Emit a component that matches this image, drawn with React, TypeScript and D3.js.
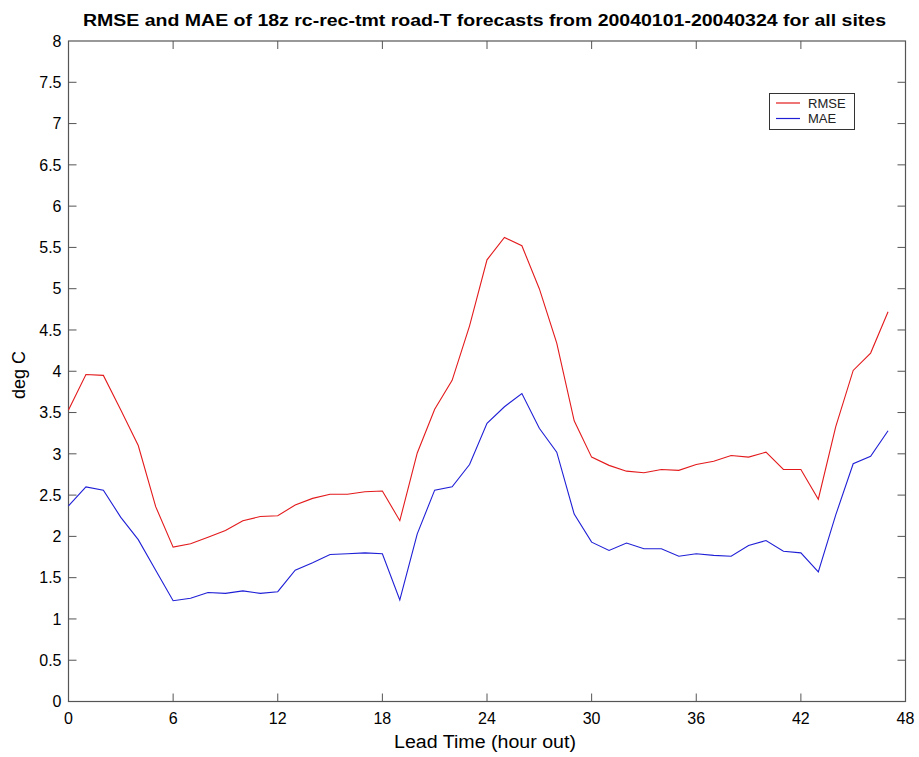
import React, { useEffect, useRef } from "react";
import * as d3 from "d3";

// lead time hours 0..47
const leadHours = d3.range(0, 48);

const rmseValues = [
  3.53, 3.96, 3.95, 3.53, 3.1, 2.36, 1.87, 1.91, 1.99, 2.07, 2.19, 2.24,
  2.25, 2.38, 2.46, 2.51, 2.51, 2.54, 2.55, 2.19, 3.01, 3.54, 3.89, 4.55,
  5.35, 5.62, 5.52, 5.0, 4.34, 3.4, 2.96, 2.86, 2.79, 2.77, 2.81, 2.8,
  2.87, 2.91, 2.98, 2.96, 3.02, 2.81, 2.81, 2.45, 3.33, 4.01, 4.22, 4.72,
];

const maeValues = [
  2.37, 2.6, 2.56, 2.23, 1.96, 1.59, 1.22, 1.25, 1.32, 1.31, 1.34, 1.31,
  1.33, 1.59, 1.68, 1.78, 1.79, 1.8, 1.79, 1.23, 2.03, 2.56, 2.6, 2.87,
  3.37, 3.57, 3.73, 3.31, 3.02, 2.27, 1.93, 1.83, 1.92, 1.85, 1.85, 1.76,
  1.79, 1.77, 1.76, 1.89, 1.95, 1.82, 1.8, 1.57, 2.26, 2.88, 2.97, 3.28,
];

const xTicks = [0, 6, 12, 18, 24, 30, 36, 42, 48];
const yTicks = d3.range(0, 8.01, 0.5);

const seriesNames = ["RMSE", "MAE"];
const seriesColors = ["#e31a1c", "#1f1fd6"];

const App = () => {
  const svgRef = useRef<SVGSVGElement>(null);

  useEffect(() => {
    const svg = d3.select(svgRef.current);
    svg.selectAll("*").remove();

    const left = 68.5;
    const right = 905.5;
    const top = 41;
    const bottom = 701.5;
    const font = "Arial, 'Liberation Sans', Helvetica, sans-serif";
    const axisColor = "#555";
    const tickLen = 8;

    const x = d3.scaleLinear().domain([0, 48]).range([left, right]);
    const y = d3.scaleLinear().domain([0, 8]).range([bottom, top]);

    svg.append("rect").attr("width", 919).attr("height", 757).attr("fill", "#fff");

    // Titulo
    svg
      .append("text")
      .attr("x", 83)
      .attr("y", 26)
      .attr("textLength", 803)
      .attr("lengthAdjust", "spacingAndGlyphs")
      .attr("font-family", font)
      .attr("font-weight", "bold")
      .attr("font-size", 16)
      .attr("fill", "#000")
      .text("RMSE and MAE of 18z rc-rec-tmt road-T forecasts from 20040101-20040324 for all sites");

    // Caja de ejes
    svg
      .append("rect")
      .attr("x", left)
      .attr("y", top)
      .attr("width", right - left)
      .attr("height", bottom - top)
      .attr("fill", "none")
      .attr("stroke", axisColor)
      .attr("stroke-width", 1.2);

    const ticks = svg.append("g").attr("stroke", axisColor).attr("stroke-width", 1);

    xTicks.slice(1, -1).forEach((t) => {
      ticks.append("line").attr("x1", x(t)).attr("x2", x(t)).attr("y1", bottom).attr("y2", bottom - tickLen);
      ticks.append("line").attr("x1", x(t)).attr("x2", x(t)).attr("y1", top).attr("y2", top + tickLen);
    });
    yTicks.slice(1, -1).forEach((t) => {
      ticks.append("line").attr("x1", left).attr("x2", left + tickLen).attr("y1", y(t)).attr("y2", y(t));
      ticks.append("line").attr("x1", right).attr("x2", right - tickLen).attr("y1", y(t)).attr("y2", y(t));
    });

    // Etiquetas eje X
    svg
      .append("g")
      .selectAll("text")
      .data(xTicks)
      .enter()
      .append("text")
      .attr("x", (d) => x(d))
      .attr("y", 724)
      .attr("text-anchor", "middle")
      .attr("font-family", font)
      .attr("font-size", 16)
      .attr("fill", "#000")
      .text((d) => d);

    // Etiquetas eje Y
    svg
      .append("g")
      .selectAll("text")
      .data(yTicks)
      .enter()
      .append("text")
      .attr("x", left - 7)
      .attr("y", (d) => y(d))
      .attr("dy", "0.36em")
      .attr("text-anchor", "end")
      .attr("font-family", font)
      .attr("font-size", 16)
      .attr("fill", "#000")
      .text((d) => d3.format("~g")(d));

    svg
      .append("text")
      .attr("x", 394)
      .attr("y", 748)
      .attr("textLength", 182)
      .attr("lengthAdjust", "spacingAndGlyphs")
      .attr("font-family", font)
      .attr("font-size", 18)
      .attr("fill", "#000")
      .text("Lead Time (hour out)");

    svg
      .append("text")
      .attr("transform", `translate(25,375) rotate(-90)`)
      .attr("text-anchor", "middle")
      .attr("font-family", font)
      .attr("font-size", 18)
      .attr("fill", "#000")
      .text("deg C");

    // Lineas
    const line = d3
      .line<number>()
      .x((_, i) => x(leadHours[i]))
      .y((d) => y(d));

    [rmseValues, maeValues].forEach((vals, i) => {
      svg
        .append("path")
        .datum(vals)
        .attr("d", line)
        .attr("fill", "none")
        .attr("stroke", seriesColors[i])
        .attr("stroke-width", 1.1);
    });

    // Leyenda
    const lg = svg.append("g");
    lg.append("rect")
      .attr("x", 769.5)
      .attr("y", 93.5)
      .attr("width", 85)
      .attr("height", 36)
      .attr("fill", "#fff")
      .attr("stroke", "#333")
      .attr("stroke-width", 1);
    seriesNames.forEach((name, i) => {
      const ly = 103 + i * 15.5;
      lg.append("line")
        .attr("x1", 776)
        .attr("x2", 800)
        .attr("y1", ly)
        .attr("y2", ly)
        .attr("stroke", seriesColors[i])
        .attr("stroke-width", 1.2);
      lg.append("text")
        .attr("x", 808)
        .attr("y", ly)
        .attr("dy", "0.36em")
        .attr("font-family", font)
        .attr("font-size", 13)
        .attr("fill", "#222")
        .text(name);
    });
  }, []);

  return (
    <svg
      ref={svgRef}
      width={919}
      height={757}
      style={{ position: "absolute", left: 0, top: 0, display: "block" }}
    />
  );
};

export default App;
